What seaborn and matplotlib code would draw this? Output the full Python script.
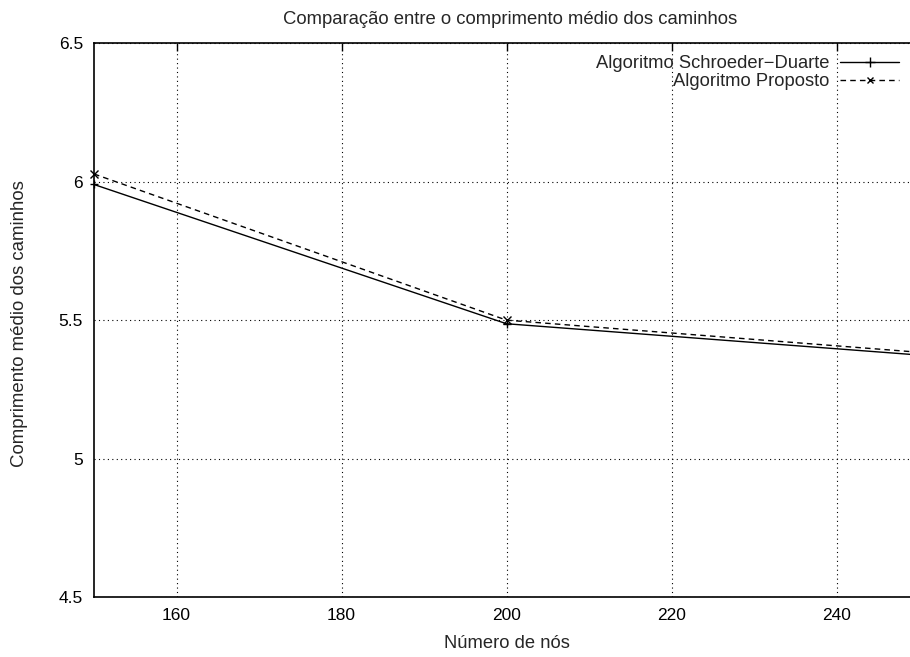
import pandas as pd
import matplotlib
matplotlib.use("Agg")
import matplotlib.pyplot as plt
import seaborn as sns
from matplotlib.lines import Line2D

# values
nodes = [150, 200, 250]
schroeder_duarte = [5.99, 5.487, 5.374]
proposto = [6.028, 5.50, 5.384]
series_names = ["Algoritmo Schroeder\u2212Duarte", "Algoritmo Proposto"]

x_ticks = [160, 180, 200, 220, 240]
y_ticks = [4.5, 5, 5.5, 6, 6.5]
y_tick_labels = ["4.5", "5", "5.5", "6", "6.5"]

df = pd.DataFrame({
    "nodes": nodes * 2,
    "value": schroeder_duarte + proposto,
    "series": [series_names[0]] * len(nodes) + [series_names[1]] * len(nodes),
})

sns.set_style("white")
plt.rcParams["font.family"] = ["Liberation Sans", "DejaVu Sans"]

fig = plt.figure(figsize=(9.10, 6.57), dpi=100)
ax = fig.add_axes([94 / 910, 1 - 597 / 657, 1 - 94 / 910, (597 - 43.3) / 657])

sns.lineplot(
    data=df, x="nodes", y="value", style="series", ax=ax,
    color="black", linewidth=1.0,
    markers={series_names[0]: "+", series_names[1]: "x"},
    dashes={series_names[0]: "", series_names[1]: (4, 3)},
    markersize=6, markeredgewidth=1.0, markeredgecolor="black",
    legend=False,
)
for line in ax.lines:
    line.set_clip_on(False)

ax.set_xlim(150, 248.9)
ax.set_ylim(4.5, 6.5)
ax.set_xticks(x_ticks)
ax.set_yticks(y_ticks)
ax.set_yticklabels(y_tick_labels)
ax.grid(True, color="black", linestyle=(0, (1, 3)), linewidth=0.8)
ax.tick_params(direction="in", length=6, width=1, top=True, right=False,
               labelsize=12.5, pad=8, colors="black")
for side in ["left", "bottom", "top"]:
    ax.spines[side].set_color("black")
    ax.spines[side].set_linewidth(1.2)
ax.spines["right"].set_visible(False)

ax.set_xlabel("")
ax.set_ylabel("")
fig.text(510 / 910, 1 - 20 / 657, "Comparação entre o comprimento médio dos caminhos",
         ha="center", va="center", fontsize=13.3)
fig.text(507 / 910, 1 - 643 / 657, "Número de nós", ha="center", va="center", fontsize=13.2)
fig.text(20 / 910, 1 - 324 / 657, "Comprimento médio dos caminhos", ha="center",
         va="center", rotation=90, fontsize=13.4)

handles = [
    Line2D([], [], color="black", linewidth=1.0, marker="+", markersize=7),
    Line2D([], [], color="black", linewidth=1.0, linestyle=(0, (4, 3)), marker="x", markersize=5),
]
ax.legend(handles, series_names, loc="upper right", markerfirst=False, frameon=False,
          fontsize=13.2, handlelength=3.2, numpoints=1, borderaxespad=0.2,
          labelspacing=0.05, handletextpad=0.6, bbox_to_anchor=(1.0, 0.998))

fig.savefig("out.png", dpi=100)
